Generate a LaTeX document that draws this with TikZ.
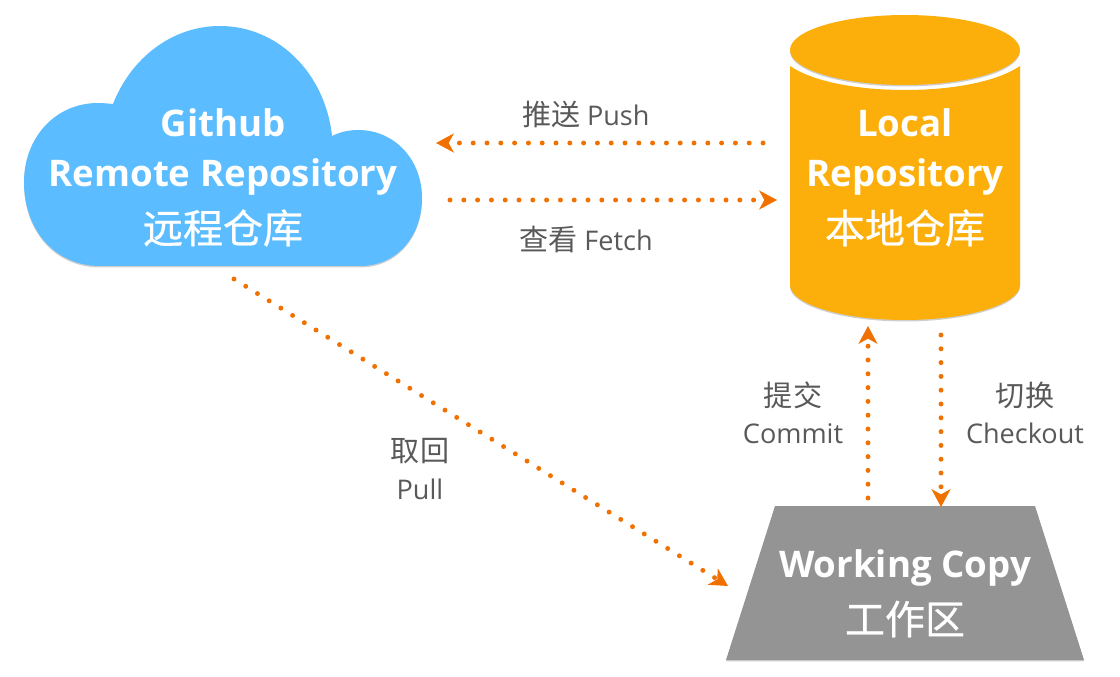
\documentclass[tikz,border=0pt]{standalone}
\usepackage{fontspec}
\setmainfont{Open Sans}
\newfontfamily\cjk{Noto Sans CJK SC}
\newfontfamily\cjkb[FakeBold=0.6]{Noto Sans CJK SC}
\newcommand{\capcjk}[1]{{\fontsize{21.8}{28}\selectfont\cjk #1}}
\usetikzlibrary{arrows.meta}
\definecolor{cloudblue}{HTML}{5BBDFF}
\definecolor{repoamber}{HTML}{FCAF0A}
\definecolor{workgray}{HTML}{949494}
\definecolor{dotorange}{HTML}{F07000}
\definecolor{labelgray}{HTML}{595959}
\tikzset{
  x=0.75pt,y=-0.75pt,
  dotline/.style={draw=dotorange,line width=3.7pt,line cap=round,dash pattern=on 0pt off 10.35pt,
    -{Stealth[length=13.5pt,width=14.5pt,inset=4pt,round=false,fill=dotorange,line width=0pt]}},
  title/.style={text=white,align=center,font=\fontsize{27.5}{38}\selectfont\bfseries,inner sep=0pt},
  cjktitle/.style={text=white,font=\fontsize{30}{32}\selectfont\cjkb,inner sep=0pt},
  caption/.style={text=labelgray,align=center,font=\fontsize{20.3}{28}\selectfont,inner sep=0pt},
  soft/.style={fill=black!35,opacity=0.55}
}
\def\cloudpath{(100,266) -- (360,266) .. controls (397,266) and (422,236) .. (422,198) .. controls (422,160) and (395,130) .. (358,130) .. controls (349,130) and (340,132) .. (332,136) .. controls (325,72) and (277,26) .. (220,26) .. controls (172,26) and (131,58) .. (113,104) .. controls (108,103.500) and (103,103) .. (98,103) .. controls (55,103) and (24,138) .. (24,182) .. controls (24,230) and (55,266) .. (100,266) -- cycle}
\def\bodypath{(790,66) .. controls (812,81) and (855,90) .. (905,90) .. controls (955,90) and (998,81) .. (1020,66) -- (1020,285) .. controls (1020,304) and (968,320) .. (905,320) .. controls (842,320) and (790,304) .. (790,285) -- cycle}
\def\trappath{(775,506) -- (1035,506) -- (1084,660) -- (726,660) -- cycle}
\begin{document}
\begin{tikzpicture}
\useasboundingbox (0,0) rectangle (1120,677);
% shadows
\begin{scope}[yshift=-1.1pt]
\fill[soft] \cloudpath;
\fill[soft] \bodypath;
\fill[soft] (905,50) ellipse [x radius=115,y radius=35];
\fill[soft] \trappath;
\end{scope}
% shapes
\fill[cloudblue] \cloudpath;
\fill[repoamber] \bodypath;
\fill[repoamber] (905,50) ellipse [x radius=115,y radius=35];
\fill[workgray] \trappath;
% texts
\node[title] (cloudA) at (223,123) {Github};
\node[title] (cloudB) at (223,177) {Remote Repository};
\node[cjktitle] (cloudC) at (223,228) {远程仓库};
\node[title] (repoA) at (905,123) {Local};
\node[title] (repoB) at (905,177) {Repository};
\node[cjktitle] (repoC) at (905,228) {本地仓库};
\node[title] (workA) at (905,568) {Working Copy};
\node[cjktitle] (workC) at (905,619) {工作区};
% connector ends
\coordinate (pushS) at (763,143);
\coordinate (pushE) at (436,143);
\coordinate (fetchS) at (450,200);
\coordinate (fetchE) at (777,200);
\coordinate (pullS) at (234,279);
\coordinate (pullE) at (728,586);
\coordinate (commitS) at (868,498);
\coordinate (commitE) at (868,326);
\coordinate (checkS) at (941,335);
\coordinate (checkE) at (941,507);
\draw[dotline] (pushS) -- (pushE);
\draw[dotline] (fetchS) -- (fetchE);
\draw[dotline] (pullS) -- (pullE);
\draw[dotline] (commitS) -- (commitE);
\draw[dotline] (checkS) -- (checkE);
% labels
\node[caption] (lpush) at (586,114) {\capcjk{推送}\hspace{-0.5pt} Push};
\node[caption] (lfetch) at (586,239) {\capcjk{查看} Fetch};
\node[caption] (lpull) at (420,469) {\capcjk{取回}\\Pull};
\node[caption] (lcommit) at (793,413) {\capcjk{提交}\\Commit};
\node[caption] (lcheck) at (1025,413) {\capcjk{切换}\\Checkout};
\end{tikzpicture}
\end{document}
